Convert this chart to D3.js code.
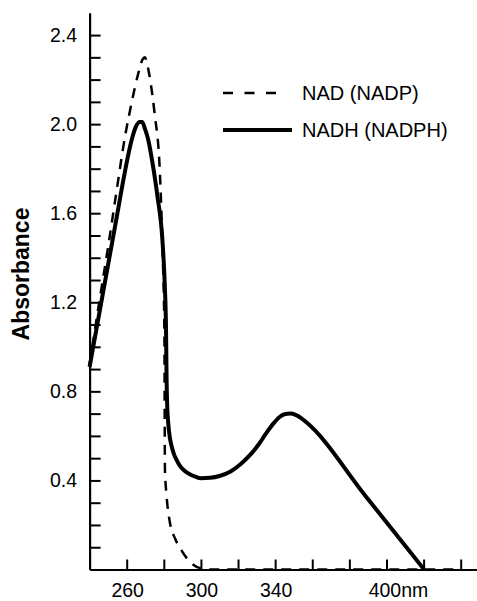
<!DOCTYPE html>
<html>
<head>
<meta charset="utf-8">
<script src="https://cdn.jsdelivr.net/npm/d3@7"></script>
<style>
  html, body { margin: 0; padding: 0; background: #fff; }
  text { font-family: "Liberation Sans", Arial, Helvetica, sans-serif; fill: #000; }
</style>
</head>
<body>
<svg id="chart" width="477" height="601"></svg>
<script>
// ---- data ----
const nadWavelength = [240, 245, 250, 254, 259, 263, 266, 268.5, 269.8, 271, 273, 275, 277.9, 279.2, 280.3, 280.6, 281.5, 283.3, 286, 289.6, 294, 300, 305, 340, 400, 440];
const nadAbsorbance = [0.92, 1.19, 1.45, 1.67, 1.94, 2.11, 2.22, 2.29, 2.30, 2.27, 2.18, 2.05, 1.78, 1.46, 1.07, 0.45, 0.33, 0.21, 0.14, 0.085, 0.035, 0.005, 0, 0, 0, 0];

const nadhWavelength = [240, 250, 255, 258.2, 262.7, 265, 267, 268.3, 269.8, 271.6, 274.4, 276.5, 279.4, 280.5, 281.2, 281.5, 281.8, 282.4, 283.3, 284.3, 285.6, 287, 288.7, 291, 294, 297, 300, 305, 310, 316, 321, 326, 331, 335, 339, 342.4, 345, 348.2, 351, 354, 357, 389, 420.3];
const nadhAbsorbance = [0.91, 1.37, 1.60, 1.75, 1.93, 1.99, 2.01, 2.01, 1.98, 1.93, 1.80, 1.68, 1.46, 1.28, 1.07, 0.85, 0.74, 0.655, 0.59, 0.55, 0.515, 0.49, 0.465, 0.445, 0.428, 0.417, 0.41, 0.412, 0.42, 0.44, 0.47, 0.51, 0.56, 0.61, 0.655, 0.685, 0.697, 0.70, 0.694, 0.68, 0.66, 0.327, 0];

const xTicks = [260, 280, 300, 320, 340, 360, 380, 400, 420, 440];
const xTickLabels = {260: "260", 300: "300", 340: "340", 400: "400nm"};
const yTicks = [0.1, 0.2, 0.3, 0.4, 0.5, 0.6, 0.7, 0.8, 0.9, 1.0, 1.1, 1.2, 1.3, 1.4, 1.5, 1.6, 1.7, 1.8, 1.9, 2.0, 2.1, 2.2, 2.3, 2.4];
const yTickLabels = {0.4: "0.4", 0.8: "0.8", 1.2: "1.2", 1.6: "1.6", 2.0: "2.0", 2.4: "2.4"};
const legendLabels = ["NAD (NADP)", "NADH (NADPH)"];
const yTitle = "Absorbance";

// ---- chart ----
const svg = d3.select("#chart");
const x = d3.scaleLinear().domain([240, 449]).range([89.6, 477.4]);
const y = d3.scaleLinear().domain([0, 2.5]).range([569.5, 12.8]);

// axes
const xAxis = svg.append("g").attr("transform", `translate(0,${y(0)})`)
  .call(d3.axisTop(x).tickValues(xTicks).tickSize(10).tickSizeOuter(0).tickFormat(""));
const yAxis = svg.append("g").attr("transform", `translate(${x(240)},0)`)
  .call(d3.axisRight(y).tickValues(yTicks).tickSize(11).tickSizeOuter(0).tickFormat(""));
[xAxis, yAxis].forEach(g => {
  g.select(".domain").attr("stroke", "#000").attr("stroke-width", 2.2);
  g.selectAll(".tick line").attr("stroke", "#000").attr("stroke-width", 2);
});

// tick labels
svg.append("g").selectAll("text")
  .data(xTicks.filter(d => xTickLabels[d]))
  .join("text")
  .attr("x", d => x(d) + (d === 400 ? 12 : 1))
  .attr("y", 597)
  .attr("text-anchor", "middle")
  .attr("font-size", 19.5)
  .text(d => xTickLabels[d]);

svg.append("g").selectAll("text")
  .data(yTicks.filter(d => yTickLabels[d]))
  .join("text")
  .attr("x", 77)
  .attr("y", d => y(d))
  .attr("dy", "0.36em")
  .attr("text-anchor", "end")
  .attr("font-size", 19.5)
  .text(d => yTickLabels[d]);

// y title
svg.append("text")
  .attr("transform", `translate(28.5,274) rotate(-90)`)
  .attr("text-anchor", "middle")
  .attr("font-size", 23)
  .attr("font-weight", "bold")
  .text(yTitle);

// lines
const line = d3.line().curve(d3.curveMonotoneX);
const nadPts = nadWavelength.map((w, i) => [x(w), y(nadAbsorbance[i])]);
const nadhPts = nadhWavelength.map((w, i) => [x(w), y(nadhAbsorbance[i])]);

svg.append("path")
  .attr("d", line(nadPts))
  .attr("fill", "none")
  .attr("stroke", "#000")
  .attr("stroke-width", 2.5)
  .attr("stroke-dasharray", "10,8");

svg.append("path")
  .attr("d", line(nadhPts))
  .attr("fill", "none")
  .attr("stroke", "#000")
  .attr("stroke-width", 4)
  .attr("stroke-linejoin", "round");

// legend
const legend = svg.append("g");
const legendY = [93, 130];
legend.append("line").attr("x1", 223).attr("x2", 287).attr("y1", legendY[0]).attr("y2", legendY[0])
  .attr("stroke", "#000").attr("stroke-width", 2.5).attr("stroke-dasharray", "10,11.5");
legend.append("line").attr("x1", 223).attr("x2", 292).attr("y1", legendY[1]).attr("y2", legendY[1])
  .attr("stroke", "#000").attr("stroke-width", 4);
legend.selectAll("text")
  .data(legendLabels)
  .join("text")
  .attr("x", 302)
  .attr("y", (d, i) => legendY[i])
  .attr("dy", "0.36em")
  .attr("font-size", 20)
  .text(d => d);
</script>
</body>
</html>
